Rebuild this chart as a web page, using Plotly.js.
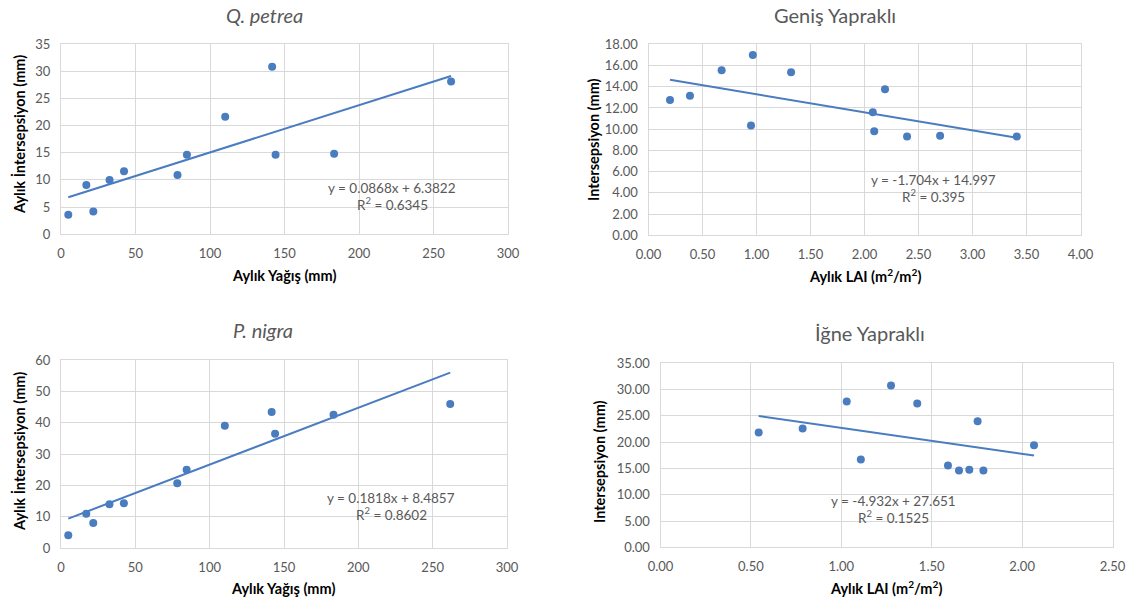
<!DOCTYPE html>
<html><head><meta charset="utf-8">
<script src="https://cdn.plot.ly/plotly-3.0.1.min.js"></script>
<style>html,body{margin:0;padding:0;background:#fff;}</style>
</head><body>
<div id="chart" style="width:1130px;height:601px;"></div>
<script>
// ---- Data ----
var qpX = [4.9, 17.0, 21.7, 32.6, 42.3, 78.2, 84.5, 110.2, 141.7, 144.0, 183.3, 261.8];
var qpY = [3.6, 9.07, 4.2, 10.0, 11.6, 10.9, 14.65, 21.6, 30.8, 14.65, 14.8, 28.1];
var qpSlope = 0.0868, qpIntercept = 6.3822, qpR2 = "0.6345";

var pnX = [4.9, 17.0, 21.7, 32.6, 42.3, 78.2, 84.5, 110.2, 141.7, 144.0, 183.3, 261.8];
var pnY = [4.05, 10.98, 8.0, 13.96, 14.28, 20.68, 25.05, 39.1, 43.5, 36.55, 42.6, 46.0];
var pnSlope = 0.1818, pnIntercept = 8.4857, pnR2 = "0.8602";

var gyX = [0.199, 0.384, 0.677, 0.949, 0.966, 1.32, 2.077, 2.09, 2.19, 2.394, 2.70, 3.41];
var gyY = [12.75, 13.16, 15.55, 10.34, 17.0, 15.36, 11.59, 9.80, 13.76, 9.30, 9.39, 9.30];
var gySlope = -1.704, gyIntercept = 14.997, gyR2 = "0.395";

var iyX = [0.543, 0.786, 1.03, 1.108, 1.275, 1.42, 1.59, 1.651, 1.708, 1.754, 1.786, 2.066];
var iyY = [21.84, 22.6, 27.72, 16.71, 30.76, 27.34, 15.57, 14.62, 14.75, 23.99, 14.62, 19.43];
var iySlope = -4.932, iyIntercept = 27.651, iyR2 = "0.1525";

var titles = ["<i>Q. petrea</i>", "Geniş Yapraklı", "<i>P. nigra</i>", "İğne Yapraklı"];
var xTitles = ["Aylık Yağış (mm)", "Aylık LAI (m<sup>2</sup>/m<sup>2</sup>)", "Aylık Yağış (mm)", "Aylık LAI (m<sup>2</sup>/m<sup>2</sup>)"];
var yTitles = ["Aylık İntersepsiyon (mm)", "Intersepsiyon (mm)", "Aylık İntersepsiyon (mm)", "Intersepsiyon (mm)"];

// ---- Styling ----
var W = 1130, H = 601;
function px(x){ return x / W; }
function py(y){ return 1 - y / H; }
var BLUE = "#4a7cc0";
var GREY = "#595959";
var FONT = "Lato, 'Open Sans', sans-serif";

var panels = [
  {x: qpX, y: qpY, m: qpSlope, b: qpIntercept, r2: qpR2,
   dom: [61, 508, 44, 234.3], xr: [0, 300], xd: 50, yr: [0, 35], yd: 5, fmtx: "", fmty: "",
   title: [264, 15], xt: [284, 275], yt: [19, 135], eq: [392, 188]},
  {x: gyX, y: gyY, m: gySlope, b: gyIntercept, r2: gyR2,
   dom: [648.5, 1080.5, 44.3, 235.3], xr: [0, 4], xd: 0.5, yr: [0, 18], yd: 2, fmtx: ".2f", fmty: ".2f",
   title: [835, 15], xt: [865, 275], yt: [593, 140], eq: [933, 180]},
  {x: pnX, y: pnY, m: pnSlope, b: pnIntercept, r2: pnR2,
   dom: [61, 507, 360.3, 548], xr: [0, 300], xd: 50, yr: [0, 60], yd: 10, fmtx: "", fmty: "",
   title: [263, 330], xt: [283, 588], yt: [19, 452], eq: [391, 498]},
  {x: iyX, y: iyY, m: iySlope, b: iyIntercept, r2: iyR2,
   dom: [660.5, 1112.5, 363.3, 547.3], xr: [0, 2.5], xd: 0.5, yr: [0, 35], yd: 5, fmtx: ".2f", fmty: ".2f",
   title: [870, 333], xt: [886, 587], yt: [599, 462], eq: [893, 501]}
];

var traces = [], annotations = [];
var layout = {
  width: W, height: H, margin: {l: 0, r: 0, t: 0, b: 0},
  paper_bgcolor: "#fff", plot_bgcolor: "#fff", showlegend: false,
  font: {family: FONT, color: GREY}
};

function eqText(m, b){
  return "y = " + (m < 0 ? "-" + Math.abs(m) : m) + "x + " + b;
}

panels.forEach(function(p, i){
  var n = i + 1;
  var xa = "x" + (n === 1 ? "" : n), ya = "y" + (n === 1 ? "" : n);
  var xkey = "xaxis" + (n === 1 ? "" : n), ykey = "yaxis" + (n === 1 ? "" : n);
  var xmin = Math.min.apply(null, p.x), xmax = Math.max.apply(null, p.x);
  traces.push({
    type: "scatter", mode: "lines", x: [xmin, xmax], y: [p.m * xmin + p.b, p.m * xmax + p.b],
    xaxis: xa, yaxis: ya, line: {color: BLUE, width: 2}, hoverinfo: "skip"
  });
  traces.push({
    type: "scatter", mode: "markers", x: p.x, y: p.y, xaxis: xa, yaxis: ya,
    marker: {color: BLUE, size: 8}
  });
  var common = {
    showgrid: true, gridcolor: "#d9d9d9", gridwidth: 1, zeroline: false,
    showline: true, linecolor: "#d9d9d9", linewidth: 1, mirror: true,
    ticks: "outside", tickcolor: "rgba(0,0,0,0)", ticklen: 7,
    tickfont: {family: FONT, size: 13, color: GREY}, fixedrange: true
  };
  layout[xkey] = Object.assign({}, common, {
    domain: [px(p.dom[0]), px(p.dom[1])], range: p.xr, dtick: p.xd, tick0: 0,
    tickformat: p.fmtx, anchor: ya
  });
  layout[ykey] = Object.assign({}, common, {
    domain: [py(p.dom[3]), py(p.dom[2])], range: p.yr, dtick: p.yd, tick0: 0,
    tickformat: p.fmty, anchor: xa
  });
  annotations.push({xref: "paper", yref: "paper", x: px(p.title[0]), y: py(p.title[1]),
    xanchor: "center", yanchor: "middle", showarrow: false, text: titles[i],
    font: {family: FONT, size: 20, color: GREY}});
  annotations.push({xref: "paper", yref: "paper", x: px(p.xt[0]), y: py(p.xt[1]),
    xanchor: "center", yanchor: "middle", showarrow: false, text: "<b>" + xTitles[i] + "</b>",
    font: {family: FONT, size: 14.5, color: "#000"}});
  annotations.push({xref: "paper", yref: "paper", x: px(p.yt[0]), y: py(p.yt[1]),
    xanchor: "center", yanchor: "middle", showarrow: false, textangle: -90,
    text: "<b>" + yTitles[i] + "</b>", font: {family: FONT, size: 14.5, color: "#000"}});
  annotations.push({xref: "paper", yref: "paper", x: px(p.eq[0]), y: py(p.eq[1]),
    xanchor: "center", yanchor: "middle", showarrow: false, text: eqText(p.m, p.b),
    font: {family: FONT, size: 13.5, color: GREY}});
  annotations.push({xref: "paper", yref: "paper", x: px(p.eq[0]), y: py(p.eq[1] + 16),
    xanchor: "center", yanchor: "middle", showarrow: false, text: "R<sup>2</sup> = " + p.r2,
    font: {family: FONT, size: 13.5, color: GREY}});
});
layout.annotations = annotations;

Plotly.newPlot("chart", traces, layout, {displayModeBar: false, staticPlot: true});
</script>
</body></html>
